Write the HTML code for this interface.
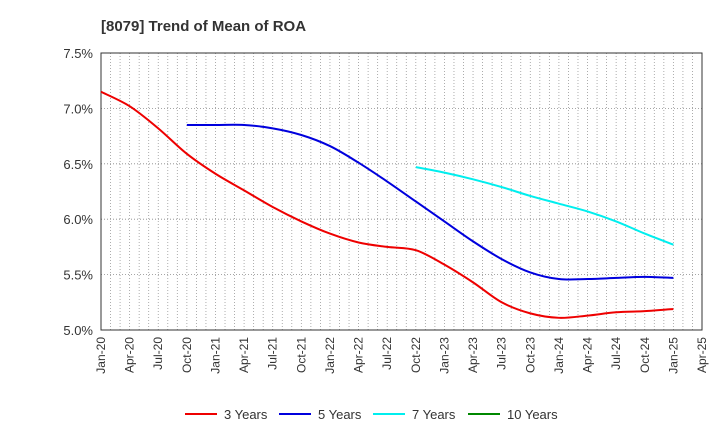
<!DOCTYPE html>
<html><head><meta charset="utf-8"><style>
body{margin:0;background:#fff;font-family:"Liberation Sans",sans-serif;}
svg text{font-family:"Liberation Sans",sans-serif;}
</style></head><body>
<svg id="c" width="720" height="440" xmlns="http://www.w3.org/2000/svg">
<text x="101" y="31" font-size="15" font-weight="bold" fill="#333">[8079]  Trend of Mean of ROA</text>
<g id="grid"></g><g id="axes"></g><g id="series"></g><g id="legend"></g>
</svg>
<script>
const xLabels=["Jan-20","Apr-20","Jul-20","Oct-20","Jan-21","Apr-21","Jul-21","Oct-21","Jan-22","Apr-22","Jul-22","Oct-22","Jan-23","Apr-23","Jul-23","Oct-23","Jan-24","Apr-24","Jul-24","Oct-24","Jan-25","Apr-25"];
const yTicks=[5.0,5.5,6.0,6.5,7.0,7.5];
const s3=[7.15,7.02,6.82,6.59,6.41,6.26,6.11,5.98,5.87,5.79,5.75,5.72,5.59,5.43,5.25,5.15,5.11,5.13,5.16,5.17,5.19];
const s5=[6.85,6.85,6.85,6.82,6.76,6.66,6.51,6.34,6.16,5.98,5.80,5.64,5.52,5.46,5.46,5.47,5.48,5.47];
const s7=[6.47,6.42,6.36,6.29,6.21,6.14,6.07,5.98,5.87,5.77];
const s10=[];
const start5=3,start7=11,start10=0;
const L=101,R=702,T=53,B=330,ns="http://www.w3.org/2000/svg";
const nMonths=(xLabels.length-1)*3;
const xq=q=>L+(R-L)*q*3/nMonths;
const xm=m=>L+(R-L)*m/nMonths;
const y=v=>B-(v-5)/(2.5)*(B-T);
function mk(tag,attrs,parent){const e=document.createElementNS(ns,tag);for(const k in attrs)e.setAttribute(k,attrs[k]);parent.appendChild(e);return e;}
const grid=document.getElementById('grid'),axes=document.getElementById('axes'),ser=document.getElementById('series'),leg=document.getElementById('legend');
for(let m=1;m<nMonths;m++){const l=mk('line',{x1:xm(m),x2:xm(m),y1:T,y2:B,stroke:'#999','stroke-dasharray':'1,2','stroke-width':0.8},grid);

}
yTicks.forEach(v=>{const l=mk('line',{x1:L,x2:R,y1:y(v),y2:y(v),stroke:'#888','stroke-dasharray':'1,2','stroke-width':0.8},grid);


const t=mk('text',{x:L-8,y:y(v)+5,'text-anchor':'end','font-size':13,fill:'#333'},axes);t.textContent=v.toFixed(1)+'%';

});
const fr=mk('rect',{x:L,y:T,width:R-L,height:B-T,fill:'none',stroke:'#333','stroke-width':1},axes);


xLabels.forEach((s,i)=>{const x=xq(i);const t=mk('text',{x:x+4,y:B+7,'text-anchor':'end','font-size':12,fill:'#333',transform:`rotate(-90 ${x+4} ${B+7})`},axes);t.textContent=s;

});
function path(vals,start){const p=vals.map((v,i)=>[xq(start+i),y(v)]);if(!p.length)return '';let d=`M${p[0][0]},${p[0][1]}`;
for(let i=0;i<p.length-1;i++){const p0=p[i-1]||p[i],p1=p[i],p2=p[i+1],p3=p[i+2]||p2;
d+=` C${p1[0]+(p2[0]-p0[0])/6},${p1[1]+(p2[1]-p0[1])/6} ${p2[0]-(p3[0]-p1[0])/6},${p2[1]-(p3[1]-p1[1])/6} ${p2[0]},${p2[1]}`;}return d;}
const series=[[s3,0,'#ee0000','3 Years'],[s5,start5,'#0000dd','5 Years'],[s7,start7,'#00eeee','7 Years'],[s10,start10,'#008800','10 Years']];
const lx=[185,279,373,468];
series.forEach((s,i)=>{if(s[0].length){const p=mk('path',{d:path(s[0],s[1]),fill:'none',stroke:s[2],'stroke-width':2},ser);

}
const g=mk('g',{},leg);


mk('line',{x1:lx[i],x2:lx[i]+32,y1:414,y2:414,stroke:s[2],'stroke-width':2},g);
const t=mk('text',{x:lx[i]+39,y:419,'font-size':13,fill:'#333'},g);t.textContent=s[3];});
</script>
</body></html>
